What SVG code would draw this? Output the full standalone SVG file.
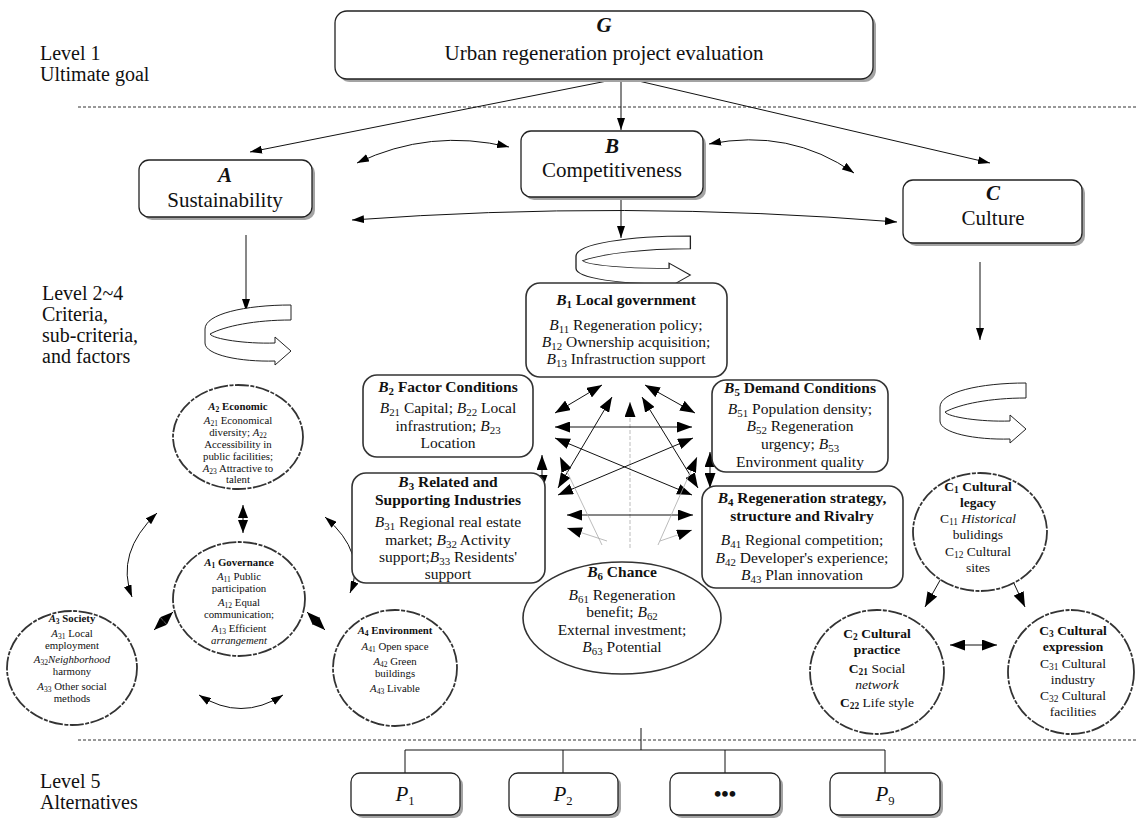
<svg xmlns="http://www.w3.org/2000/svg" width="1136" height="821" viewBox="0 0 1136 821">
<defs>
<style>
text{font-family:"Liberation Serif","Times New Roman",serif;fill:#111}
.t21{font-size:21px}
.lv{font-size:20px}
.bx{fill:#fff;stroke:#222;stroke-width:1.3}
.sh{fill:#a3a3a3}
.bb{fill:#fff;stroke:#333;stroke-width:1.6}
.c{text-anchor:middle}
.b{font-weight:bold}
.i{font-style:italic}
.bt{font-size:15.5px}
.at{font-size:10.8px}
.ct{font-size:13.5px}
.circ{fill:#fff;stroke:#333;stroke-width:1.8;stroke-dasharray:14 1.5 4 1.5}
.ln{fill:none;stroke:#111;stroke-width:1}
.gl{fill:none;stroke:#aaa;stroke-width:0.8}
.gd{fill:none;stroke:#aaa;stroke-width:0.8;stroke-dasharray:4 2}
.dot{fill:none;stroke:#333;stroke-width:1;stroke-dasharray:3 2}
.loop{fill:#fff;stroke:#222;stroke-width:1}
</style>
<marker id="ah" viewBox="0 0 12 8" refX="12" refY="4" markerWidth="12" markerHeight="8" markerUnits="userSpaceOnUse" orient="auto-start-reverse"><path d="M0,0 L12,4 L0,8 Z" fill="#000"/></marker>
<marker id="an" viewBox="0 0 15 11" refX="15" refY="5.5" markerWidth="15" markerHeight="11" markerUnits="userSpaceOnUse" orient="auto-start-reverse"><path d="M0,0 L15,5.5 L0,11 Z" fill="#000"/></marker>
<marker id="ad" viewBox="0 0 13 10" refX="13" refY="5" markerWidth="13" markerHeight="10" markerUnits="userSpaceOnUse" orient="auto-start-reverse"><path d="M0,0 L13,5 L0,10 Z" fill="#000"/></marker>
<path id="loop" d="M86,0 C40,0 0,9 0,24 L0,38 C0,50 35,57 70,56 L70,60 L86,46 L70,32 L70,38 C40,39 8,34 5,29 C20,21 50,15 86,15 Z"/>
</defs>

<g id="levels">
<text class="lv" x="40" y="60">Level 1</text>
<text class="lv" x="40" y="81">Ultimate goal</text>
<text class="lv" x="42" y="300">Level 2~4</text>
<text class="lv" x="42" y="321">Criteria,</text>
<text class="lv" x="42" y="342">sub-criteria,</text>
<text class="lv" x="42" y="363">and factors</text>
<text class="lv" x="40" y="788">Level 5</text>
<text class="lv" x="40" y="809">Alternatives</text>
<line class="dot" x1="78" y1="107" x2="1136" y2="107"/>
<line class="dot" x1="78" y1="740" x2="1136" y2="740"/>
</g>

<g id="connectors">
<path class="ln" d="M617,79 L250,152" marker-end="url(#ah)"/>
<path class="ln" d="M621,79 L621,130" marker-end="url(#ah)"/>
<path class="ln" d="M630,79 L990,163" marker-end="url(#ah)"/>
<path class="ln" d="M357,163 Q430,128 509,147" marker-start="url(#ah)" marker-end="url(#ah)"/>
<path class="ln" d="M709,144 Q790,128 854,173" marker-start="url(#ah)" marker-end="url(#ah)"/>
<path class="ln" d="M352,220 Q625,200 897,222" marker-start="url(#ah)" marker-end="url(#ah)"/>
<path class="ln" d="M246,235 L246,311" marker-end="url(#ah)"/>
<path class="ln" d="M621,197 L621,238" marker-end="url(#ah)"/>
<path class="ln" d="M980,262 L980,340" marker-end="url(#ah)"/>
<!-- B network -->
<path class="ln" d="M602,385 L555,413" marker-start="url(#an)" marker-end="url(#an)"/>
<path class="ln" d="M645,385 L695,413" marker-start="url(#an)" marker-end="url(#an)"/>
<path class="gd" d="M630,548 L630,402" marker-end="url(#an)"/>
<path class="ln" d="M612,397 L558,488" marker-start="url(#an)" marker-end="url(#an)"/>
<path class="ln" d="M642,397 L698,488" marker-start="url(#an)" marker-end="url(#an)"/>
<path class="ln" d="M555,427 L692,427" marker-start="url(#an)" marker-end="url(#an)"/>
<path class="ln" d="M555,438 L692,495" marker-start="url(#an)" marker-end="url(#an)"/>
<path class="ln" d="M693,438 L558,495" marker-start="url(#an)" marker-end="url(#an)"/>
<path class="ln" d="M567,515 L693,515" marker-start="url(#an)" marker-end="url(#an)"/>
<path class="gl" d="M602,545 L560,457" marker-end="url(#an)"/>
<path class="gl" d="M658,545 L697,457" marker-end="url(#an)"/>
<path class="gl" d="M607,541 L567,528" marker-end="url(#an)"/>
<path class="gl" d="M660,541 L692,530" marker-end="url(#an)"/>
<path class="ln" d="M542,455 L542,490" marker-start="url(#an)" marker-end="url(#an)"/>
<path class="ln" d="M710,452 L710,488" marker-start="url(#an)" marker-end="url(#an)"/>
<!-- A network -->
<path class="ln" d="M243,505 L243,533" marker-start="url(#ad)" marker-end="url(#ad)"/>
<path class="ln" d="M173,612 L154,630" marker-start="url(#ad)" marker-end="url(#ad)"/>
<path class="ln" d="M307,612 L325,630" marker-start="url(#ad)" marker-end="url(#ad)"/>
<path class="ln" d="M157,513 Q115,553 132,597" marker-start="url(#ah)" marker-end="url(#ah)"/>
<path class="ln" d="M325,517 Q367,553 350,593" marker-start="url(#ah)" marker-end="url(#ah)"/>
<path class="ln" d="M199,695 Q241,722 283,695" marker-start="url(#ah)" marker-end="url(#ah)"/>
<!-- C network -->
<path class="ln" d="M943,575 L925,607" marker-end="url(#an)"/>
<path class="ln" d="M1010,575 L1025,607" marker-end="url(#an)"/>
<path class="ln" d="M950,645 L997,645" marker-start="url(#an)" marker-end="url(#an)"/>
<!-- alternatives tree -->
<path class="ln" d="M641,728 L641,750 M405,750 L885,750 M405,750 L405,773 M563,750 L563,773 M725,750 L725,773 M885,750 L885,773"/>
</g>

<g id="loops">
<use href="#loop" class="loop" transform="translate(205,305)"/>
<use href="#loop" class="loop" transform="translate(576,236) scale(1.33,0.85)"/>
<use href="#loop" class="loop" transform="translate(940,383)"/>
</g>

<g id="node-G">
<rect class="sh" x="338" y="14" width="538" height="68" rx="12"/>
<rect class="bx" x="335" y="11" width="538" height="68" rx="12"/>
<text class="t21 c b i" x="604" y="32">G</text>
<text class="t21 c" x="604" y="60">Urban regeneration project evaluation</text>
</g>

<g id="node-A">
<rect class="sh" x="142" y="163" width="173" height="57" rx="10"/>
<rect class="bx" x="139" y="160" width="173" height="57" rx="10"/>
<text class="t21 c b i" x="225" y="182">A</text>
<text class="t21 c" x="225" y="207">Sustainability</text>
</g>

<g id="node-B">
<rect class="sh" x="524" y="134" width="182" height="66" rx="10"/>
<rect class="bx" x="521" y="131" width="182" height="66" rx="10"/>
<text class="t21 c b i" x="612" y="153">B</text>
<text class="t21 c" x="612" y="177">Competitiveness</text>
</g>

<g id="node-C">
<rect class="sh" x="906" y="183" width="179" height="63" rx="10"/>
<rect class="bx" x="903" y="180" width="179" height="63" rx="10"/>
<text class="t21 c b i" x="993" y="200">C</text>
<text class="t21 c" x="993" y="225">Culture</text>
</g>

<g id="node-B1">
<rect class="bb" x="526" y="283" width="201" height="94" rx="14"/>
<text class="bt c b" x="626" y="305"><tspan class="i">B</tspan><tspan font-size="70%" dy="3">1</tspan><tspan dy="-3"> Local government</tspan></text>
<text class="bt c" x="626" y="330"><tspan class="i">B</tspan><tspan font-size="70%" dy="3">11</tspan><tspan dy="-3"> Regeneration policy;</tspan></text>
<text class="bt c" x="626" y="347"><tspan class="i">B</tspan><tspan font-size="70%" dy="3">12</tspan><tspan dy="-3"> Ownership acquisition;</tspan></text>
<text class="bt c" x="626" y="364"><tspan class="i">B</tspan><tspan font-size="70%" dy="3">13</tspan><tspan dy="-3"> Infrastruction support</tspan></text>
</g>

<g id="node-B2">
<rect class="bb" x="363" y="375" width="170" height="82" rx="14"/>
<text class="bt c b" x="448" y="392"><tspan class="i">B</tspan><tspan font-size="70%" dy="3">2</tspan><tspan dy="-3"> Factor Conditions</tspan></text>
<text class="bt c" x="448" y="413"><tspan class="i">B</tspan><tspan font-size="70%" dy="3">21</tspan><tspan dy="-3"> Capital; </tspan><tspan class="i">B</tspan><tspan font-size="70%" dy="3">22</tspan><tspan dy="-3"> Local</tspan></text>
<text class="bt c" x="448" y="431">infrastrution; <tspan class="i">B</tspan><tspan font-size="70%" dy="3">23</tspan></text>
<text class="bt c" x="448" y="448">Location</text>
</g>

<g id="node-B5">
<rect class="bb" x="712" y="380" width="176" height="92" rx="14"/>
<text class="bt c b" x="800" y="393"><tspan class="i">B</tspan><tspan font-size="70%" dy="3">5</tspan><tspan dy="-3"> Demand Conditions</tspan></text>
<text class="bt c" x="800" y="414"><tspan class="i">B</tspan><tspan font-size="70%" dy="3">51</tspan><tspan dy="-3"> Population density;</tspan></text>
<text class="bt c" x="800" y="431"><tspan class="i">B</tspan><tspan font-size="70%" dy="3">52</tspan><tspan dy="-3"> Regeneration</tspan></text>
<text class="bt c" x="800" y="449">urgency;  <tspan class="i">B</tspan><tspan font-size="70%" dy="3">53</tspan></text>
<text class="bt c" x="800" y="467">Environment quality</text>
</g>

<g id="node-B3">
<rect class="bb" x="352" y="473" width="193" height="110" rx="14"/>
<text class="bt c b" x="448" y="487"><tspan class="i">B</tspan><tspan font-size="70%" dy="3">3</tspan><tspan dy="-3"> Related and</tspan></text>
<text class="bt c b" x="448" y="505">Supporting Industries</text>
<text class="bt c" x="448" y="527"><tspan class="i">B</tspan><tspan font-size="70%" dy="3">31</tspan><tspan dy="-3"> Regional real estate</tspan></text>
<text class="bt c" x="448" y="545">market; <tspan class="i">B</tspan><tspan font-size="70%" dy="3">32</tspan><tspan dy="-3"> Activity</tspan></text>
<text class="bt c" x="448" y="562">support;<tspan class="i">B</tspan><tspan font-size="70%" dy="3">33</tspan><tspan dy="-3"> Residents'</tspan></text>
<text class="bt c" x="448" y="579">support</text>
</g>

<g id="node-B4">
<rect class="bb" x="702" y="486" width="201" height="102" rx="14"/>
<text class="bt c b" x="802" y="503"><tspan class="i">B</tspan><tspan font-size="70%" dy="3">4</tspan><tspan dy="-3"> Regeneration strategy,</tspan></text>
<text class="bt c b" x="802" y="521">structure and Rivalry</text>
<text class="bt c" x="802" y="545"><tspan class="i">B</tspan><tspan font-size="70%" dy="3">41</tspan><tspan dy="-3"> Regional competition;</tspan></text>
<text class="bt c" x="802" y="563"><tspan class="i">B</tspan><tspan font-size="70%" dy="3">42</tspan><tspan dy="-3"> Developer's experience;</tspan></text>
<text class="bt c" x="802" y="580"><tspan class="i">B</tspan><tspan font-size="70%" dy="3">43</tspan><tspan dy="-3"> Plan innovation</tspan></text>
</g>

<g id="node-B6">
<ellipse class="bb" cx="622" cy="618" rx="99" ry="56"/>
<text class="bt c b" x="622" y="577"><tspan class="i">B</tspan><tspan font-size="70%" dy="3">6</tspan><tspan dy="-3"> Chance</tspan></text>
<text class="bt c" x="622" y="600"><tspan class="i">B</tspan><tspan font-size="70%" dy="3">61</tspan><tspan dy="-3"> Regeneration</tspan></text>
<text class="bt c" x="622" y="617">benefit; <tspan class="i">B</tspan><tspan font-size="70%" dy="3">62</tspan></text>
<text class="bt c" x="622" y="635">External investment;</text>
<text class="bt c" x="622" y="652"><tspan class="i">B</tspan><tspan font-size="70%" dy="3">63</tspan><tspan dy="-3"> Potential</tspan></text>
</g>

<g id="node-A2">
<ellipse class="circ" cx="238" cy="437" rx="65" ry="52"/>
<text class="at c b" x="238" y="410"><tspan class="i">A</tspan><tspan font-size="70%" dy="1.5">2</tspan><tspan dy="-1.5"> Economic</tspan></text>
<text class="at c" x="238" y="424"><tspan class="i">A</tspan><tspan font-size="70%" dy="1.5">21</tspan><tspan dy="-1.5"> Economical</tspan></text>
<text class="at c" x="238" y="436">diversity; <tspan class="i">A</tspan><tspan font-size="70%" dy="1.5">22</tspan></text>
<text class="at c" x="238" y="448">Accessibility in</text>
<text class="at c" x="238" y="460">public facilities;</text>
<text class="at c" x="238" y="472"><tspan class="i">A</tspan><tspan font-size="70%" dy="1.5">23</tspan><tspan dy="-1.5"> Attractive to</tspan></text>
<text class="at c" x="238" y="483">talent</text>
</g>

<g id="node-A1">
<ellipse class="circ" cx="239" cy="599" rx="66" ry="57"/>
<text class="at c b" x="239" y="566"><tspan class="i">A</tspan><tspan font-size="70%" dy="1.5">1</tspan><tspan dy="-1.5"> Governance</tspan></text>
<text class="at c" x="239" y="580"><tspan class="i">A</tspan><tspan font-size="70%" dy="1.5">11</tspan><tspan dy="-1.5"> Public</tspan></text>
<text class="at c" x="239" y="592">participation</text>
<text class="at c" x="239" y="606"><tspan class="i">A</tspan><tspan font-size="70%" dy="1.5">12</tspan><tspan dy="-1.5"> Equal</tspan></text>
<text class="at c" x="239" y="618">communication;</text>
<text class="at c" x="239" y="632"><tspan class="i">A</tspan><tspan font-size="70%" dy="1.5">13</tspan><tspan dy="-1.5"> Efficient</tspan></text>
<text class="at c i" x="239" y="644">arrangement</text>
</g>

<g id="node-A3">
<ellipse class="circ" cx="72" cy="668" rx="65" ry="57"/>
<text class="at c b" x="72" y="622"><tspan class="i">A</tspan><tspan font-size="70%" dy="1.5">3</tspan><tspan dy="-1.5"> Society</tspan></text>
<text class="at c" x="72" y="637"><tspan class="i">A</tspan><tspan font-size="70%" dy="1.5">31</tspan><tspan dy="-1.5"> Local</tspan></text>
<text class="at c" x="72" y="649">employment</text>
<text class="at c" x="72" y="663"><tspan class="i">A</tspan><tspan font-size="70%" dy="1.5">32</tspan><tspan dy="-1.5" class="i">Neighborhood</tspan></text>
<text class="at c" x="72" y="675">harmony</text>
<text class="at c" x="72" y="690"><tspan class="i">A</tspan><tspan font-size="70%" dy="1.5">33</tspan><tspan dy="-1.5"> Other social</tspan></text>
<text class="at c" x="72" y="702">methods</text>
</g>

<g id="node-A4">
<ellipse class="circ" cx="395" cy="668" rx="62" ry="58"/>
<text class="at c b" x="395" y="634"><tspan class="i">A</tspan><tspan font-size="70%" dy="1.5">4</tspan><tspan dy="-1.5"> Environment</tspan></text>
<text class="at c" x="395" y="650"><tspan class="i">A</tspan><tspan font-size="70%" dy="1.5">41</tspan><tspan dy="-1.5"> Open space</tspan></text>
<text class="at c" x="395" y="665"><tspan class="i">A</tspan><tspan font-size="70%" dy="1.5">42</tspan><tspan dy="-1.5"> Green</tspan></text>
<text class="at c" x="395" y="677">buildings</text>
<text class="at c" x="395" y="692"><tspan class="i">A</tspan><tspan font-size="70%" dy="1.5">43</tspan><tspan dy="-1.5"> Livable</tspan></text>
</g>

<g id="node-C1">
<ellipse class="circ" cx="980" cy="532" rx="67" ry="59"/>
<text class="ct c b" x="978" y="491">C<tspan font-size="70%" dy="2">1</tspan><tspan dy="-2"> Cultural</tspan></text>
<text class="ct c b" x="978" y="507">legacy</text>
<text class="ct c" x="978" y="523">C<tspan font-size="70%" dy="2">11</tspan><tspan dy="-2" class="i"> Historical</tspan></text>
<text class="ct c" x="978" y="539">bulidings</text>
<text class="ct c" x="978" y="556">C<tspan font-size="70%" dy="2">12</tspan><tspan dy="-2"> Cultural</tspan></text>
<text class="ct c" x="978" y="572">sites</text>
</g>

<g id="node-C2">
<ellipse class="circ" cx="877" cy="672" rx="67" ry="62"/>
<text class="ct c b" x="877" y="638">C<tspan font-size="70%" dy="2">2</tspan><tspan dy="-2"> Cultural</tspan></text>
<text class="ct c b" x="877" y="654">practice</text>
<text class="ct c" x="877" y="673"><tspan class="b">C</tspan><tspan font-size="70%" dy="2" class="b">21</tspan><tspan dy="-2"> Social</tspan></text>
<text class="ct c i" x="877" y="689">network</text>
<text class="ct c" x="877" y="707"><tspan class="b">C</tspan><tspan font-size="70%" dy="2" class="b">22</tspan><tspan dy="-2"> Life style</tspan></text>
</g>

<g id="node-C3">
<ellipse class="circ" cx="1071" cy="672" rx="63" ry="62"/>
<text class="ct c b" x="1073" y="635">C<tspan font-size="70%" dy="2">3</tspan><tspan dy="-2"> Cultural</tspan></text>
<text class="ct c b" x="1073" y="651">expression</text>
<text class="ct c" x="1073" y="668">C<tspan font-size="70%" dy="2">31</tspan><tspan dy="-2"> Cultural</tspan></text>
<text class="ct c" x="1073" y="684">industry</text>
<text class="ct c" x="1073" y="700">C<tspan font-size="70%" dy="2">32</tspan><tspan dy="-2"> Cultural</tspan></text>
<text class="ct c" x="1073" y="716">facilities</text>
</g>

<g id="node-P1">
<rect class="sh" x="354" y="776" width="109" height="42" rx="9"/>
<rect class="bx" x="351" y="773" width="109" height="42" rx="9"/>
<text class="t21 c" x="405" y="801"><tspan class="i">P</tspan><tspan font-size="60%" dy="4">1</tspan></text>
</g>
<g id="node-P2">
<rect class="sh" x="512" y="776" width="109" height="42" rx="9"/>
<rect class="bx" x="509" y="773" width="109" height="42" rx="9"/>
<text class="t21 c" x="563" y="801"><tspan class="i">P</tspan><tspan font-size="60%" dy="4">2</tspan></text>
</g>
<g id="node-Pdots">
<rect class="sh" x="673" y="776" width="110" height="42" rx="9"/>
<rect class="bx" x="670" y="773" width="110" height="42" rx="9"/>
<text class="t21 c b" x="725" y="801">•••</text>
</g>
<g id="node-P9">
<rect class="sh" x="833" y="776" width="110" height="42" rx="9"/>
<rect class="bx" x="830" y="773" width="110" height="42" rx="9"/>
<text class="t21 c" x="885" y="801"><tspan class="i">P</tspan><tspan font-size="60%" dy="4">9</tspan></text>
</g>
</svg>
